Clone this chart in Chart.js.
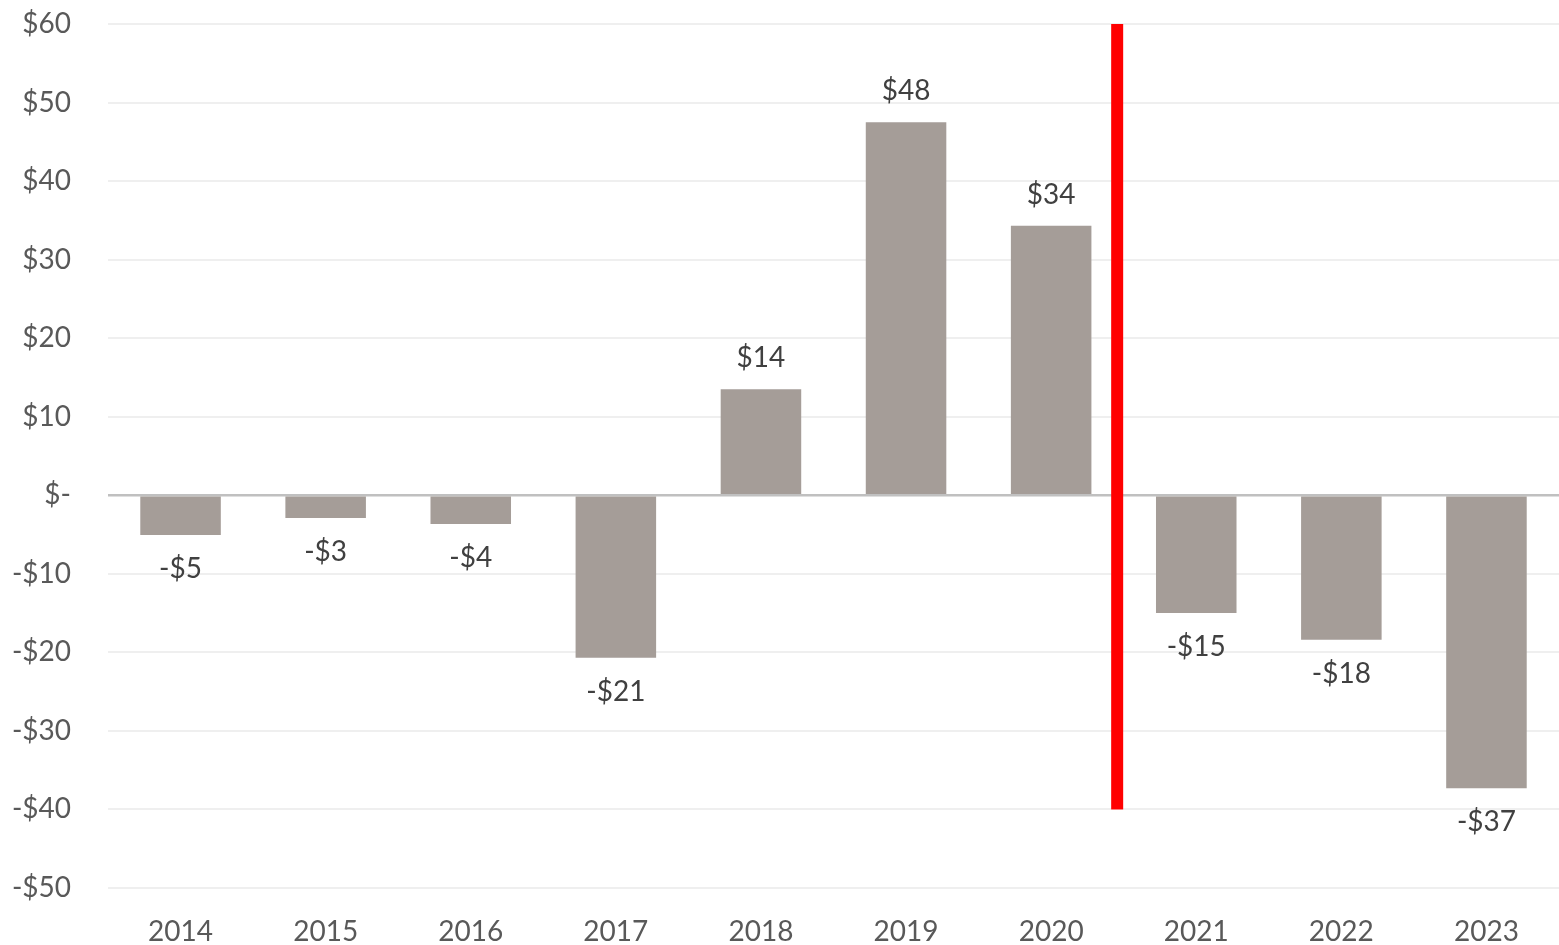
<!DOCTYPE html>
<html>
<head>
<meta charset="utf-8">
<script src="https://cdn.jsdelivr.net/npm/chart.js@4/dist/chart.umd.min.js"></script>
<style>
  html, body { margin: 0; padding: 0; background: #fff; }
  #wrap { width: 1559px; height: 945px; position: relative; }
</style>
</head>
<body>
<div id="wrap"><canvas id="chart"></canvas></div>
<script>
// yearly values
const years = ['2014', '2015', '2016', '2017', '2018', '2019', '2020', '2021', '2022', '2023'];
const values = [-5.05, -2.9, -3.65, -20.7, 13.5, 47.5, 34.3, -15.0, -18.4, -37.3];
const yMin = -50, yMax = 60, yStep = 10;

// red divider between 2020 and 2021
const dividerAt = 6.455;
const dividerFrom = 60;
const dividerTo = -40;

const textColor = '#595959';
const fontFamily = 'Lato, "Open Sans", sans-serif';

function money(v) {
    if (v === 0) return '$-';
    return (v < 0 ? '-$' : '$') + Math.abs(Math.round(v));
}

const dividerPlugin = {
    id: 'divider',
    afterDatasetsDraw(chart) {
        const x = chart.scales.x, y = chart.scales.y;
        const step = x.getPixelForValue(1) - x.getPixelForValue(0);
        const px = x.getPixelForValue(0) + dividerAt * step;
        const ctx = chart.ctx;
        ctx.save();
        ctx.fillStyle = '#ff0000';
        ctx.fillRect(px - 6, y.getPixelForValue(dividerFrom), 12, y.getPixelForValue(dividerTo) - y.getPixelForValue(dividerFrom));
        ctx.restore();
    }
};

const labelPlugin = {
    id: 'barLabels',
    afterDatasetsDraw(chart) {
        const ctx = chart.ctx;
        const meta = chart.getDatasetMeta(0);
        ctx.save();
        ctx.font = '28px ' + fontFamily;
        ctx.fillStyle = '#404040';
        ctx.textAlign = 'center';
        ctx.textBaseline = 'middle';
        meta.data.forEach((bar, i) => {
            const v = values[i];
            const yy = v >= 0 ? bar.y - 31 : bar.y + 34;
            ctx.fillText(money(v), bar.x, yy);
        });
        ctx.restore();
    }
};

new Chart(document.getElementById('chart'), {
    type: 'bar',
    data: {
        labels: years,
        datasets: [{
            data: values,
            backgroundColor: '#a59d98',
            borderWidth: 0,
            categoryPercentage: 1.0,
            barPercentage: 0.555
        }]
    },
    options: {
        responsive: true,
        maintainAspectRatio: false,
        animation: false,
        layout: { padding: { top: 24, right: 0, bottom: 0, left: 0 } },
        plugins: { legend: { display: false }, tooltip: { enabled: false } },
        scales: {
            x: {
                grid: { display: false },
                border: { display: false },
                ticks: { color: textColor, font: { family: fontFamily, size: 28 }, padding: 19 },
                afterFit(scale) { scale.height = 57; }
            },
            y: {
                min: yMin,
                max: yMax,
                border: { display: false },
                grid: {
                    color: ctx => ctx.tick.value === 0 ? '#c0c0c0' : '#efefef',
                    lineWidth: ctx => ctx.tick.value === 0 ? 2.5 : 2,
                    drawTicks: false
                },
                ticks: {
                    stepSize: yStep,
                    color: textColor,
                    font: { family: fontFamily, size: 28 },
                    padding: 37,
                    callback: v => money(v)
                },
                afterFit(scale) {
                    scale.width = 108;
                    scale.paddingTop = 0;
                    scale.paddingBottom = 0;
                }
            }
        }
    },
    plugins: [dividerPlugin, labelPlugin]
});
</script>
</body>
</html>
